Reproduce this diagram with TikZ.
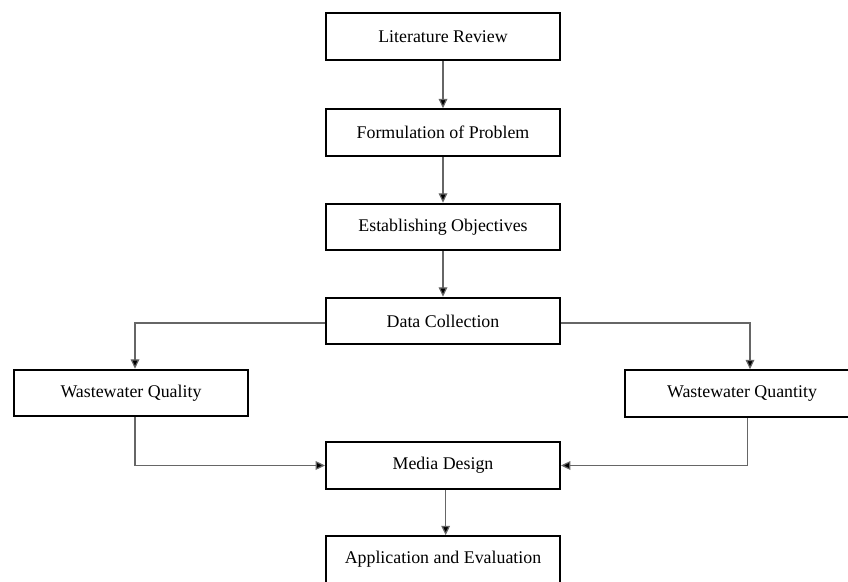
\documentclass[tikz,border=0pt]{standalone}
\usepackage{fontspec}
\setmainfont{Liberation Serif}
\usetikzlibrary{arrows.meta}
\begin{document}
\begin{tikzpicture}[x=0.75pt,y=-0.75pt,
  stepbox/.style={draw=black,line width=1.5pt,minimum width=175.5pt,minimum height=35pt,
    inner sep=0pt,font=\fontsize{13.4}{15}\selectfont,fill=white},
  conn/.style={draw=black!60,line width=0.9pt,-{Triangle[length=7pt,width=6.5pt,fill=black]}}]
\useasboundingbox (0,0) rectangle (848,581);
\begin{scope}
\clip (0,0) rectangle (848,581);
\node[stepbox] (lit) at (443,36.5) {Literature Review};
\node[stepbox] (form) at (443,132.5) {Formulation of Problem};
\node[stepbox] (obj) at (443,227) {Establishing Objectives};
\node[stepbox] (data) at (443,321) {Data Collection};
\node[stepbox] (qual) at (131,393) {Wastewater Quality};
\node[stepbox] (quant) at (742,393.5) {Wastewater Quantity};
\node[stepbox] (media) at (443,465.5) {Media Design};
\node[stepbox] (app) at (443,559.5) {Application and Evaluation};
\draw[conn] (lit) -- (form);
\draw[conn] (form) -- (obj);
\draw[conn] (obj) -- (data);
\draw[conn] ([yshift=-1.5pt]data.west) -| ([xshift=3pt]qual.north);
\draw[conn] ([yshift=-1.5pt]data.east) -| ([xshift=6pt]quant.north);
\draw[conn] ([xshift=3pt]qual.south) |- (media.west);
\draw[conn] ([xshift=4pt]quant.south) |- (media.east);
\draw[conn] ([xshift=2pt]media.south) -- ([xshift=2pt]app.north);
\end{scope}
\end{tikzpicture}
\end{document}
